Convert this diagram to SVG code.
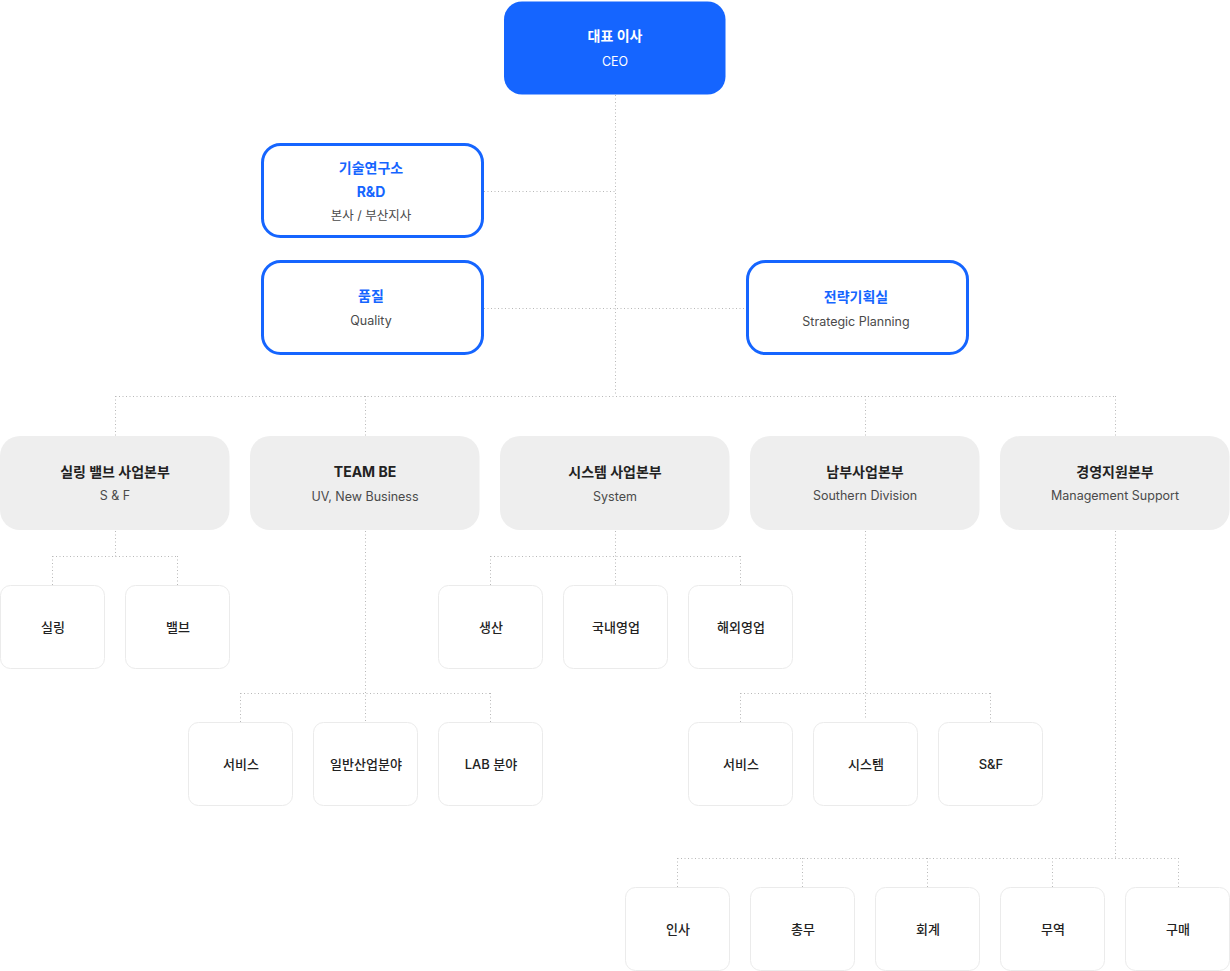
<svg xmlns="http://www.w3.org/2000/svg" width="1230" height="971" viewBox="0 0 1230 971">
<style>
text{font-family:Inter,"Noto Sans CJK KR",sans-serif;text-anchor:middle}
.t{font-size:14px;font-weight:700;fill:#222}
.s{font-size:12.5px;fill:#4a4a4a}
.bt{font-size:14px;font-weight:700;fill:#1565ff}
.w{fill:#fff}
.c{fill:none;stroke:#b8b8b8;stroke-width:1;stroke-dasharray:1 2.5}
.blue{fill:#fff;stroke:#1565ff;stroke-width:3}
.div{fill:#eeeeee}
.sub{fill:#fff;stroke:#ebebeb;stroke-width:1}
.st{font-size:13px;font-weight:500;fill:#222}
</style>
<rect width="1230" height="971" fill="#fff"/>
<g id="connectors">
<path class="c" d="M615.5 95V396M484 191.5H615M484 308.5H747M115.5 396.5H1115.5M115.5 396V436M365.5 396V436M865.5 396V436M1115.5 396V436"/>
<path class="c" d="M115.5 531V556.5M52.5 556.5H177.5M52.5 556V585M177.5 556V585"/>
<path class="c" d="M615.5 531V585M490.5 556.5H740.5M490.5 556V585M740.5 556V585"/>
<path class="c" d="M365.5 531V722M240.5 693.5H490.5M240.5 693V722M490.5 693V722"/>
<path class="c" d="M865.5 531V718M740.5 693.5H990.5M740.5 693V722M990.5 693V722"/>
<path class="c" d="M1115.5 531V858.5M677.5 858.5H1178.5M677.5 858V887M802.5 858V887M927.5 858V887M1052.5 858V887M1178.5 858V887"/>
</g>
<g id="ceo"><rect x="504" y="1.5" width="221.5" height="93" rx="18" fill="#1565ff"/>
<text class="t w" x="615" y="41">대표 이사</text><text class="s w" x="615" y="66" style="fill:#fff">CEO</text></g>
<g id="rnd"><rect class="blue" x="262.5" y="144.5" width="220" height="92" rx="18"/>
<text class="bt" x="371" y="173">기술연구소</text><text class="bt" x="371" y="197">R&amp;D</text><text class="s" x="371" y="220">본사 / 부산지사</text></g>
<g id="quality"><rect class="blue" x="262.5" y="261.5" width="220" height="92" rx="18"/>
<text class="bt" x="371" y="301">품질</text><text class="s" x="371" y="325">Quality</text></g>
<g id="strategy"><rect class="blue" x="747.5" y="261.5" width="220" height="92" rx="18"/>
<text class="bt" x="856" y="302">전략기획실</text><text class="s" x="856" y="326">Strategic Planning</text></g>
<g id="div-sf"><rect class="div" x="0" y="436" width="229.5" height="94" rx="20"/>
<text class="t" x="115" y="477">실링 밸브 사업본부</text><text class="s" x="115" y="500">S &amp; F</text></g>
<g id="div-teambe"><rect class="div" x="250" y="436" width="229.5" height="94" rx="20"/>
<text class="t" x="365" y="477">TEAM BE</text><text class="s" x="365" y="501">UV, New Business</text></g>
<g id="div-system"><rect class="div" x="500" y="436" width="229.5" height="94" rx="20"/>
<text class="t" x="615" y="477">시스템 사업본부</text><text class="s" x="615" y="501">System</text></g>
<g id="div-south"><rect class="div" x="750" y="436" width="229.5" height="94" rx="20"/>
<text class="t" x="865" y="477">남부사업본부</text><text class="s" x="865" y="500">Southern Division</text></g>
<g id="div-mgmt"><rect class="div" x="1000" y="436" width="229.5" height="94" rx="20"/>
<text class="t" x="1115" y="477">경영지원본부</text><text class="s" x="1115" y="500">Management Support</text></g>
<g id="n-sealing"><rect class="sub" x="0.5" y="585.5" width="104" height="83" rx="10"/><text class="st" x="53" y="632">실링</text></g>
<g id="n-valve"><rect class="sub" x="125.5" y="585.5" width="104" height="83" rx="10"/><text class="st" x="178" y="632">밸브</text></g>
<g id="n-prod"><rect class="sub" x="438.5" y="585.5" width="104" height="83" rx="10"/><text class="st" x="491" y="632">생산</text></g>
<g id="n-dom"><rect class="sub" x="563.5" y="585.5" width="104" height="83" rx="10"/><text class="st" x="616" y="632">국내영업</text></g>
<g id="n-over"><rect class="sub" x="688.5" y="585.5" width="104" height="83" rx="10"/><text class="st" x="741" y="632">해외영업</text></g>
<g id="n-svc1"><rect class="sub" x="188.5" y="722.5" width="104" height="83" rx="10"/><text class="st" x="241" y="769">서비스</text></g>
<g id="n-gen"><rect class="sub" x="313.5" y="722.5" width="104" height="83" rx="10"/><text class="st" x="366" y="769">일반산업분야</text></g>
<g id="n-lab"><rect class="sub" x="438.5" y="722.5" width="104" height="83" rx="10"/><text class="st" x="491" y="769">LAB 분야</text></g>
<g id="n-svc2"><rect class="sub" x="688.5" y="722.5" width="104" height="83" rx="10"/><text class="st" x="741" y="769">서비스</text></g>
<g id="n-sys"><rect class="sub" x="813.5" y="722.5" width="104" height="83" rx="10"/><text class="st" x="866" y="769">시스템</text></g>
<g id="n-sf"><rect class="sub" x="938.5" y="722.5" width="104" height="83" rx="10"/><text class="st" x="991" y="769">S&amp;F</text></g>
<g id="n-hr"><rect class="sub" x="625.5" y="887.5" width="104" height="83" rx="10"/><text class="st" x="678" y="934">인사</text></g>
<g id="n-ga"><rect class="sub" x="750.5" y="887.5" width="104" height="83" rx="10"/><text class="st" x="803" y="934">총무</text></g>
<g id="n-acc"><rect class="sub" x="875.5" y="887.5" width="104" height="83" rx="10"/><text class="st" x="928" y="934">회계</text></g>
<g id="n-trade"><rect class="sub" x="1000.5" y="887.5" width="104" height="83" rx="10"/><text class="st" x="1053" y="934">무역</text></g>
<g id="n-buy"><rect class="sub" x="1125.5" y="887.5" width="104" height="83" rx="10"/><text class="st" x="1178" y="934">구매</text></g>
</svg>
